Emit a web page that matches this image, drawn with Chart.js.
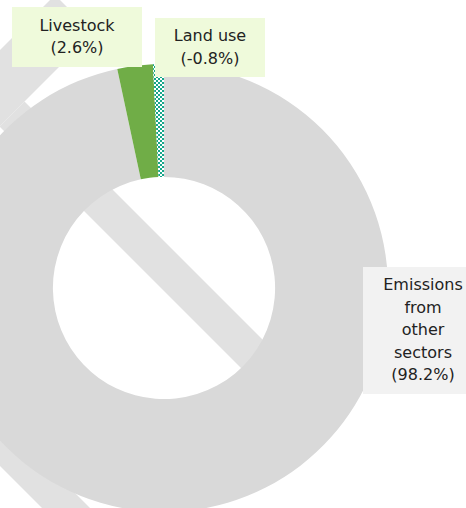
<!DOCTYPE html>
<html>
<head>
<meta charset="utf-8">
<script src="https://cdn.jsdelivr.net/npm/chart.js@4"></script>
<style>
  html, body { margin: 0; padding: 0; width: 466px; height: 508px; overflow: hidden; background: #fff; }
  #wrap { position: absolute; left: -60px; top: 0; width: 526px; height: 512px; }
  .box {
    position: absolute; display: flex; flex-direction: column; justify-content: center; align-items: center;
    font-family: "DejaVu Sans", sans-serif; font-size: 16px; line-height: 22.5px; color: #222;
    text-align: center;
  }
</style>
</head>
<body>
<div id="wrap"><canvas id="chart" width="526" height="512"></canvas></div>
<div id="labels"></div>
<script>
// Shares of the total
const categories = ['Emissions from other sectors', 'Livestock', 'Land use'];
const shares = [98.2, 2.6, -0.8];
const labelLines = [['Emissions', 'from', 'other', 'sectors'], ['Livestock'], ['Land use']];

// Label boxes: left, top, width, height, background
const boxes = [
  [363, 267, 120, 127, '#f2f2f2'],
  [12, 7, 130, 60, '#effadb'],
  [155, 18, 110, 59, '#effadb']
];

// Checkered fill for the negative slice
const tile = document.createElement('canvas');
tile.width = 4; tile.height = 4;
const tctx = tile.getContext('2d');
tctx.fillStyle = '#ffffff';
tctx.fillRect(0, 0, 4, 4);
tctx.fillStyle = '#17a68a';
tctx.fillRect(0, 0, 2, 2);
tctx.fillRect(2, 2, 2, 2);
const checker = tctx.createPattern(tile, 'repeat');

// Light diagonal bands behind the ring, in rotated coords relative to the centre
// s = along +45deg, d = across; each [sMin, sMax, dMin, dMax]
const bands = [
  [-326, 228, -47, 3],
  [-252, 348, 294, 342],
  [-402, -326, -184, 76]
];

const bandPlugin = {
  id: 'bands',
  beforeDatasetsDraw(chart) {
    const arc = chart.getDatasetMeta(0).data[0];
    const cx = arc.x, cy = arc.y;
    const ctx = chart.ctx;
    const pt = (s, d) => [cx + (s - d) / 2, cy + (s + d) / 2];
    ctx.save();
    ctx.fillStyle = '#e1e1e1';
    bands.forEach(([s0, s1, d0, d1]) => {
      ctx.beginPath();
      [[s0, d0], [s1, d0], [s1, d1], [s0, d1]].forEach(([s, d], i) => {
        const [x, y] = pt(s, d);
        if (i === 0) ctx.moveTo(x, y); else ctx.lineTo(x, y);
      });
      ctx.closePath();
      ctx.fill();
    });
    ctx.restore();
  }
};

new Chart(document.getElementById('chart').getContext('2d'), {
  type: 'doughnut',
  data: {
    labels: categories,
    datasets: [{
      data: shares.map(v => Math.abs(v)),
      backgroundColor: ['#d9d9d9', '#70ad47', checker],
      borderWidth: 0,
      hoverOffset: 0
    }]
  },
  options: {
    responsive: false,
    animation: false,
    cutout: '49.6%',
    layout: { padding: { top: 64, right: 78, left: 0, bottom: 0 } },
    plugins: { legend: { display: false }, tooltip: { enabled: false } }
  },
  plugins: [bandPlugin]
});

// Data labels as boxes
const holder = document.getElementById('labels');
categories.forEach((c, i) => {
  const [l, t, w, h, bg] = boxes[i];
  const div = document.createElement('div');
  div.className = 'box';
  div.style.left = l + 'px';
  div.style.top = t + 'px';
  div.style.width = w + 'px';
  div.style.height = h + 'px';
  div.style.background = bg;
  labelLines[i].concat(['(' + shares[i].toFixed(1) + '%)']).forEach(line => {
    const s = document.createElement('span');
    s.textContent = line;
    div.appendChild(s);
  });
  holder.appendChild(div);
});
</script>
</body>
</html>
